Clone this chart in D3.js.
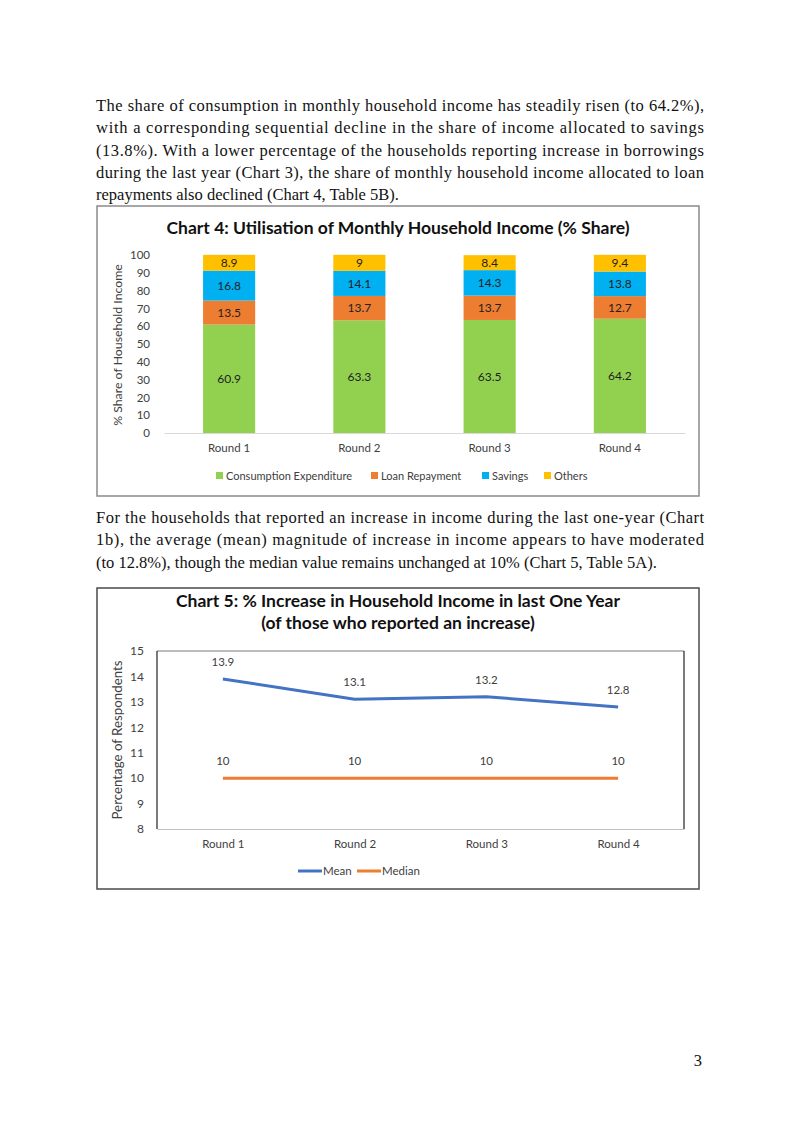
<!DOCTYPE html>
<html><head><meta charset="utf-8">
<script src="https://cdn.jsdelivr.net/npm/d3@7"></script>
<style>html,body{margin:0;padding:0;background:#fff;}svg{display:block;}</style>
</head><body>
<svg id="page" width="800" height="1130"></svg>
<script>
// ---- data ----
const rounds = ["Round 1", "Round 2", "Round 3", "Round 4"];
const seriesNames = ["Consumption Expenditure", "Loan Repayment", "Savings", "Others"];
const consumption = [60.9, 63.3, 63.5, 64.2];
const loanRepayment = [13.5, 13.7, 13.7, 12.7];
const savings = [16.8, 14.1, 14.3, 13.8];
const others = [8.9, 9, 8.4, 9.4];
const chart4Ticks = [0, 10, 20, 30, 40, 50, 60, 70, 80, 90, 100];

const lineNames = ["Mean", "Median"];
const meanIncrease = [13.9, 13.1, 13.2, 12.8];
const medianIncrease = [10, 10, 10, 10];
const chart5Ticks = [8, 9, 10, 11, 12, 13, 14, 15];

const para1 = [
 "The share of consumption in monthly household income has steadily risen (to 64.2%),",
 "with a corresponding sequential decline in the share of income allocated to savings",
 "(13.8%). With a lower percentage of the households reporting increase in borrowings",
 "during the last year (Chart 3), the share of monthly household income allocated to loan",
 "repayments also declined (Chart 4, Table 5B)."
];
const para2 = [
 "For the households that reported an increase in income during the last one-year (Chart",
 "1b), the average (mean) magnitude of increase in income appears to have moderated",
 "(to 12.8%), though the median value remains unchanged at 10% (Chart 5, Table 5A)."
];

// ---- drawing ----
const svg = d3.select("#page");
svg.append("rect").attr("width", 800).attr("height", 1130).attr("fill", "#fff");
const serif = "'Liberation Serif','DejaVu Serif',serif";
const sans = "Lato, 'Open Sans', sans-serif";

function paragraph(lines, y0, lh) {
  lines.forEach((t, i) => {
    const el = svg.append("text").attr("x", 96).attr("y", y0 + i * lh)
      .attr("font-family", serif).attr("font-size", 16.5).attr("fill", "#111").text(t);
    if (i < lines.length - 1) el.attr("textLength", 608).attr("lengthAdjust", "spacing");
  });
}
paragraph(para1, 111, 22.3);
paragraph(para2, 523, 22.3);
svg.append("text").attr("x", 702).attr("y", 1066).attr("text-anchor", "end")
  .attr("font-family", serif).attr("font-size", 16.5).attr("fill", "#111").text("3");

// ===== Chart 4 =====
const c4 = svg.append("g");
c4.append("rect").attr("x", 97).attr("y", 206).attr("width", 602).attr("height", 290)
  .attr("fill", "#fff").attr("stroke", "#8a8a8a").attr("stroke-width", 1.5);
c4.append("text").attr("x", 398).attr("y", 234).attr("text-anchor", "middle")
  .attr("font-family", sans).attr("font-weight", "bold").attr("font-size", 17.5).attr("fill", "#111")
  .text("Chart 4: Utilisation of Monthly Household Income (% Share)");

const colors4 = ["#92D050", "#ED7D31", "#00B0F0", "#FFC000"];
const x4 = d3.scaleBand().domain(rounds).range([164, 685]).paddingInner(0.6).paddingOuter(0.3);
const y4 = d3.scaleLinear().domain([0, 100]).range([433, 255]);

const table4 = rounds.map((r, i) => ({round: r, s0: consumption[i], s1: loanRepayment[i], s2: savings[i], s3: others[i]}));
const stacked = d3.stack().keys(["s0", "s1", "s2", "s3"])(table4);

const yAxis4 = c4.append("g").attr("transform", "translate(164,0)")
  .call(d3.axisLeft(y4).tickValues(chart4Ticks).tickSize(0).tickPadding(14));
yAxis4.select(".domain").remove();
yAxis4.selectAll("text").attr("font-family", sans).attr("font-size", 11.5).attr("fill", "#404040");

const xAxis4 = c4.append("g").attr("transform", "translate(0,433)")
  .call(d3.axisBottom(x4).tickSize(0).tickPadding(11));
xAxis4.select(".domain").attr("stroke", "#d9d9d9").attr("stroke-width", 1);
xAxis4.selectAll("text").attr("font-family", sans).attr("font-size", 11.5).attr("fill", "#404040");

stacked.forEach((layer, k) => {
  const g = c4.append("g");
  g.selectAll("rect").data(layer).join("rect")
    .attr("x", d => x4(d.data.round)).attr("width", x4.bandwidth())
    .attr("y", d => y4(d[1])).attr("height", d => y4(d[0]) - y4(d[1]))
    .attr("fill", colors4[k]);
  g.selectAll("text").data(layer).join("text")
    .attr("x", d => x4(d.data.round) + x4.bandwidth() / 2)
    .attr("y", d => y4((d[0] + d[1]) / 2))
    .attr("dy", "0.35em").attr("text-anchor", "middle")
    .attr("font-family", sans).attr("font-size", 12).attr("fill", "#1f1f1f")
    .text(d => d.data["s" + k]);
});

c4.append("text").attr("transform", "translate(122,345) rotate(-90)").attr("text-anchor", "middle")
  .attr("font-family", sans).attr("font-size", 12.3).attr("fill", "#404040")
  .text("% Share of Household Income");

const leg4x = [216, 371, 482, 544];
seriesNames.forEach((n, k) => {
  c4.append("rect").attr("x", leg4x[k]).attr("y", 472).attr("width", 7).attr("height", 7).attr("fill", colors4[k]);
  c4.append("text").attr("x", leg4x[k] + 10).attr("y", 479.5).attr("font-family", sans)
    .attr("font-size", 11).attr("fill", "#404040").text(n);
});

// ===== Chart 5 =====
const c5 = svg.append("g");
c5.append("rect").attr("x", 97).attr("y", 588).attr("width", 602).attr("height", 301)
  .attr("fill", "#fff").attr("stroke", "#4a4a4a").attr("stroke-width", 1.5);
c5.append("text").attr("x", 398).attr("y", 607).attr("text-anchor", "middle")
  .attr("font-family", sans).attr("font-weight", "bold").attr("font-size", 17.5).attr("fill", "#111")
  .text("Chart 5: % Increase in Household Income in last One Year");
c5.append("text").attr("x", 398).attr("y", 629).attr("text-anchor", "middle")
  .attr("font-family", sans).attr("font-weight", "bold").attr("font-size", 17.5).attr("fill", "#111")
  .text("(of those who reported an increase)");

const x5 = d3.scalePoint().domain(rounds).range([157, 684]).padding(0.5);
const y5 = d3.scaleLinear().domain([8, 15]).range([829, 651]);

// plot area frame
c5.append("line").attr("x1", 157).attr("x2", 684).attr("y1", 651).attr("y2", 651).attr("stroke", "#a6a6a6").attr("stroke-width", 1.5);
c5.append("line").attr("x1", 157).attr("x2", 157).attr("y1", 651).attr("y2", 829).attr("stroke", "#222").attr("stroke-width", 1.2);
c5.append("line").attr("x1", 684).attr("x2", 684).attr("y1", 651).attr("y2", 829).attr("stroke", "#222").attr("stroke-width", 1.2);

const yAxis5 = c5.append("g").attr("transform", "translate(157,0)")
  .call(d3.axisLeft(y5).tickValues(chart5Ticks).tickFormat(d3.format("d")).tickSize(0).tickPadding(13));
yAxis5.select(".domain").remove();
yAxis5.selectAll("text").attr("font-family", sans).attr("font-size", 12).attr("fill", "#404040");

const xAxis5 = c5.append("g").attr("transform", "translate(0,829)")
  .call(d3.axisBottom(x5).tickSize(0).tickPadding(11));
xAxis5.select(".domain").attr("stroke", "#bfbfbf").attr("stroke-width", 1.2);
xAxis5.selectAll("text").attr("font-family", sans).attr("font-size", 11.5).attr("fill", "#404040");

const lineColors = ["#4472C4", "#ED7D31"];
const lineData = [meanIncrease, medianIncrease];
const line = d3.line().x((d, i) => x5(rounds[i])).y(d => y5(d));
lineData.forEach((vals, k) => {
  c5.append("path").datum(vals).attr("d", line).attr("fill", "none")
    .attr("stroke", lineColors[k]).attr("stroke-width", 3).attr("stroke-linejoin", "round");
  c5.selectAll(null).data(vals).join("text")
    .attr("x", (d, i) => x5(rounds[i])).attr("y", d => y5(d) - 13)
    .attr("text-anchor", "middle").attr("font-family", sans).attr("font-size", 11.5).attr("fill", "#404040")
    .text(d => d);
});

c5.append("text").attr("transform", "translate(122,740) rotate(-90)").attr("text-anchor", "middle")
  .attr("font-family", sans).attr("font-size", 13.3).attr("fill", "#404040")
  .text("Percentage of Respondents");

const leg5x = [298, 357];
lineNames.forEach((n, k) => {
  c5.append("line").attr("x1", leg5x[k]).attr("x2", leg5x[k] + 24).attr("y1", 871).attr("y2", 871)
    .attr("stroke", lineColors[k]).attr("stroke-width", 3);
  c5.append("text").attr("x", leg5x[k] + 25).attr("y", 875).attr("font-family", sans)
    .attr("font-size", 11.5).attr("fill", "#404040").text(n);
});
</script>
</body></html>
